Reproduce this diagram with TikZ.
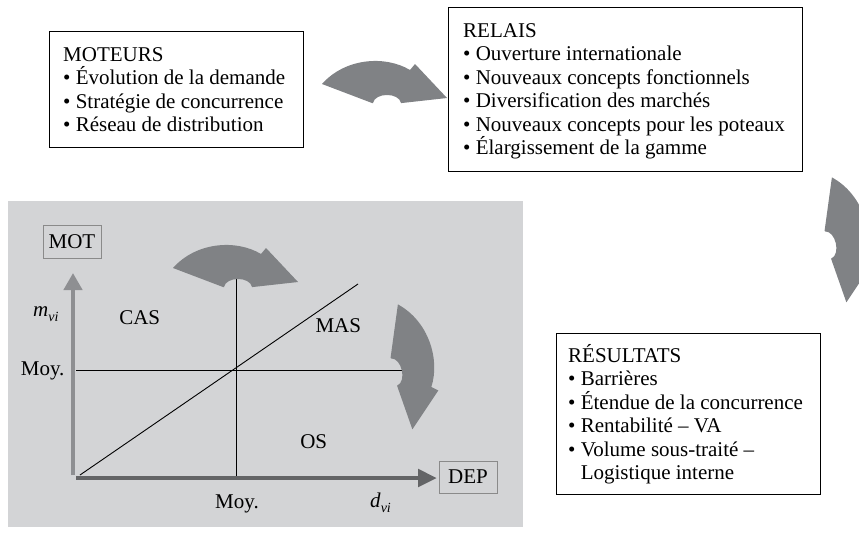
\documentclass[tikz,border=0pt]{standalone}
\usepackage{fontspec}
\setmainfont{Liberation Serif}
\usetikzlibrary{arrows.meta}
\definecolor{panel}{HTML}{D3D4D6}
\definecolor{fan}{HTML}{808285}
\definecolor{axv}{HTML}{8E8F92}
\definecolor{axh}{HTML}{636466}
\definecolor{lblbox}{HTML}{8A8A8A}
\tikzset{
  txt/.style={inner sep=0pt, align=left, anchor=north west},
  box/.style={draw=black, line width=0.9pt, fill=white, anchor=north west, inner sep=0pt},
  lbl/.style={inner sep=0pt},
  axbox/.style={draw=lblbox, line width=0.8pt, inner sep=0pt, minimum width=58pt, minimum height=33pt},
  thin/.style={draw=black, line width=0.9pt},
  fanarrow/.pic={\fill[fan] (-65,-19) .. controls (-42,-45) and (-2,-48) .. (23,-33) -- (28,-39) -- (60,-5) -- (15,0) -- (14,0) .. controls (12,-10.7) and (-12,-10.7) .. (-14,0) -- (-15,0) -- cycle;},
}
\newcommand{\subvi}{\raisebox{-5pt}{\fontsize{14}{14}\selectfont\textit{vi}}}
\begin{document}
\begin{tikzpicture}[x=1pt,y=-1pt,font=\fontsize{21}{23.5}\selectfont]
\useasboundingbox (0,0) rectangle (859,544);

% top boxes
\node[box, minimum width=254pt, minimum height=116pt] (moteurs) at (49,31) {};
\node[txt] (moteurst) at (63,47) {\smash{MOTEURS}\rule{0pt}{13.9pt}\\• Évolution de la demande\\• Stratégie de concurrence\\• Réseau de distribution};

\node[box, minimum width=354pt, minimum height=164pt] (relais) at (448,7) {};
\node[txt] (relaist) at (463,23.1) {\smash{RELAIS}\rule{0pt}{13.9pt}\\• Ouverture internationale\\• Nouveaux concepts fonctionnels\\• Diversification des marchés\\• Nouveaux concepts pour les poteaux\\• Élargissement de la gamme};

\node[box, minimum width=264pt, minimum height=161pt] (resultats) at (556,333) {};
\node[txt] (resultatst) at (568,348) {\smash{RÉSULTATS}\rule{0pt}{13.9pt}\\• Barrières\\• Étendue de la concurrence\\• Rentabilité – VA\\• Volume sous-traité –\\\hphantom{•\ }Logistique interne};

% arrows between boxes
\pic (fanA) at (387,103) {fanarrow};
\begin{scope}
  \clip (0,0) rectangle (859,544);
  \pic (fanB) [rotate=-77] at (828,245) {fanarrow};
\end{scope}

% panel
\node[fill=panel, minimum width=515pt, minimum height=326pt, anchor=north west, inner sep=0pt] (panel) at (8,201) {};

% grid lines
\coordinate (vl1) at (236,279);
\coordinate (vl2) at (236,477);
\coordinate (hl1) at (76,370);
\coordinate (hl2) at (402,370);
\coordinate (d1) at (80,475);
\coordinate (d2) at (358,284);
\draw[thin] (vl1) -- (vl2);
\draw[thin] (hl1) -- (hl2);
\draw[thin] (d1) -- (d2);

% axes
\coordinate (vb) at (73,475);
\coordinate (vt) at (73,273);
\coordinate (hb) at (76,478);
\coordinate (ht) at (437,478);
\draw[axv, line width=4.5pt, -{Triangle[width=18pt,length=17pt]}] (vb) -- (vt);
\draw[axh, line width=4.7pt, -{Triangle[width=17pt,length=19pt]}] (hb) -- (ht);

% panel arrows
\pic (fanC) at (238,287) {fanarrow};
\pic (fanD) [rotate=-77] at (394,372) {fanarrow};

% axis boxes
\node[axbox] (mot) at (72,241.5) {MOT};
\node[axbox, minimum height=32pt] (dep) at (468,477) {DEP};

% labels
\node[lbl, anchor=base west] (mvi) at (33,316.7) {\textit{m}\subvi};
\node[lbl, anchor=base west] (dvi) at (370,507.5) {\textit{d}\subvi};
\node[lbl] (cas) at (139.7,317.7) {CAS};
\node[lbl] (mas) at (338.3,325.5) {MAS};
\node[lbl] (os) at (313.7,441.3) {OS};
\node[lbl, anchor=base west] (moyv) at (20.7,375.6) {Moy.};
\node[lbl, anchor=base west] (moyh) at (215,508) {Moy.};
\end{tikzpicture}
\end{document}
